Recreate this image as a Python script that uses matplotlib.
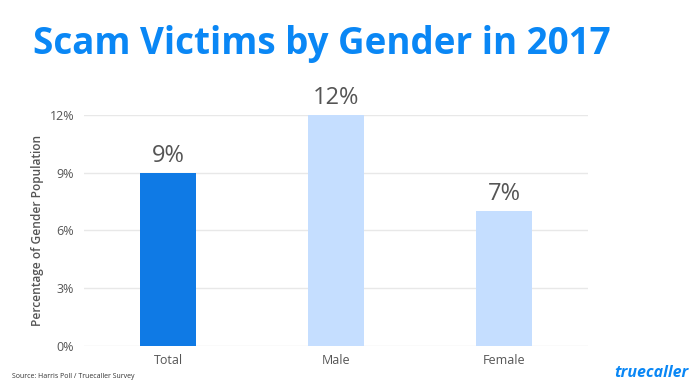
import matplotlib
matplotlib.use("Agg")
import matplotlib.pyplot as plt
from matplotlib.ticker import FuncFormatter

# data
categories = ["Total", "Male", "Female"]
victims_pct = [9, 12, 7]
bar_colors = ["#0f7ae5", "#c5deff", "#c5deff"]
yticks = [0, 3, 6, 9, 12]

TEXT = "#555555"
BLUE = "#0a87f5"

plt.rcParams["font.family"] = ["Open Sans", "DejaVu Sans"]

fig = plt.figure(figsize=(7, 3.91), dpi=100)
ax = fig.add_axes([0.12, 0.1151, 0.72, 0.5908])

x = range(len(categories))
ax.bar(x, victims_pct, width=0.333, color=bar_colors, zorder=3)

for xi, v in zip(x, victims_pct):
    ax.text(xi, v + 0.25, "%d%%" % v, ha="center", va="bottom",
            fontsize=17, fontweight="medium", color=TEXT, clip_on=False)

ax.set_xlim(-0.5, 2.5)
ax.set_ylim(0, 12)
ax.set_yticks(yticks)
ax.yaxis.set_major_formatter(FuncFormatter(lambda v, p: "%d%%" % v))
ax.set_xticks(list(x))
ax.set_xticklabels(categories)
ax.tick_params(axis="both", length=0, labelsize=9, labelcolor=TEXT)
ax.tick_params(axis="y", pad=7)
ax.tick_params(axis="x", pad=6)
ax.grid(axis="y", color="#e8e8e8", linewidth=1, zorder=0)
for s in ax.spines.values():
    s.set_visible(False)
ax.set_ylabel("Percentage of Gender Population", fontsize=8.6,
              fontweight="semibold", color=TEXT, labelpad=4)

fig.text(0.047, 0.935, "Scam Victims by Gender in 2017", fontsize=26.5,
         fontweight="bold", color=BLUE, va="top", ha="left")
fig.text(0.017, 0.038, "Source: Harris Poll / Truecaller Survey", fontsize=5,
         color="#333333", va="center")
fig.text(0.983, 0.047, "truecaller", fontsize=11.5, fontweight="bold",
         fontstyle="italic", color=BLUE, ha="right", va="center")

fig.savefig("out.png", dpi=100)
